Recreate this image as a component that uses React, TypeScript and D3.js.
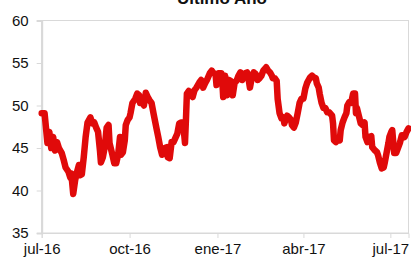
import React, { useEffect, useRef } from "react";
import * as d3 from "d3";

// days since 2016-07-01 and index value
const days = [
  0, 3, 6, 8, 10, 12, 14, 16, 18, 21, 23, 25, 28, 30, 31, 33, 35, 37, 39, 40,
  42, 44, 46, 48, 51, 53, 55, 57, 59, 61, 62, 64, 66, 68, 70, 71, 74, 76, 78, 80,
  82, 83, 85, 87, 88, 90, 92, 93, 95, 98, 100, 102, 103, 105, 107, 109, 111, 113, 115, 117,
  120, 122, 124, 126, 127, 129, 131, 132, 134, 136, 138, 142, 144, 146, 148, 150, 151, 152, 154, 156,
  158, 160, 162, 165, 167, 169, 171, 173, 176, 178, 180, 182, 183, 185, 188, 189, 190, 192, 194, 196,
  198, 200, 202, 204, 206, 208, 210, 213, 215, 216, 218, 220, 222, 224, 226, 228, 230, 232, 235, 237,
  239, 241, 242, 244, 246, 247, 249, 251, 253, 254, 257, 259, 261, 262, 264, 266, 268, 270, 272, 274,
  276, 278, 281, 283, 285, 287, 288, 290, 291, 293, 295, 297, 299, 301, 304, 305, 306, 308, 310, 312,
  313, 315, 317, 319, 320, 322, 324, 326, 328, 329, 330, 332, 334, 336, 338, 339, 341, 343, 345, 346,
  349, 351, 352, 354, 356, 358, 359, 361, 363, 364, 366, 367, 369, 371, 372, 375, 377, 378, 380, 382, 384,
];

const values = [
  49.1, 49.1, 45.6, 46.9, 45.0, 46.3, 44.7, 45.7, 45.0, 44.4, 43.6, 42.7, 42.2, 41.5, 42.0, 39.6, 41.2, 42.2, 43.0, 41.8,
  41.9, 43.9, 46.3, 48.0, 48.6, 47.9, 48.0, 47.4, 46.9, 44.7, 43.3, 43.9, 45.1, 47.4, 47.7, 45.6, 44.2, 43.2, 43.2, 44.2,
  46.3, 44.2, 44.5, 45.9, 47.7, 48.3, 48.6, 49.1, 50.3, 50.8, 51.4, 51.2, 50.3, 50.5, 50.0, 51.5, 51.0, 50.6, 50.3, 49.1,
  47.4, 46.3, 45.1, 44.2, 44.7, 45.0, 45.1, 43.9, 43.8, 45.7, 45.7, 46.7, 47.9, 48.0, 48.0, 45.6, 48.3, 51.4, 51.7, 51.5,
  51.0, 51.8, 52.1, 52.7, 53.0, 52.1, 52.6, 53.0, 53.8, 54.1, 53.8, 53.7, 52.4, 53.8, 53.8, 53.0, 51.0, 53.5, 51.2, 53.0,
  52.9, 51.2, 52.7, 52.9, 53.5, 53.9, 53.0, 53.8, 53.9, 53.5, 52.1, 53.3, 53.9, 53.7, 53.0, 53.2, 53.5, 54.1, 54.5, 54.1,
  53.9, 53.5, 53.2, 53.2, 52.9, 50.8, 49.1, 48.5, 48.6, 47.9, 48.8, 48.6, 48.3, 47.7, 47.4, 48.0, 49.1, 50.3, 50.8, 50.8,
  52.0, 52.7, 53.3, 53.5, 53.3, 53.2, 52.6, 52.1, 51.4, 50.3, 49.7, 49.7, 49.2, 49.2, 48.8, 47.9, 45.9, 45.7, 46.1, 45.9,
  47.1, 48.0, 48.6, 49.1, 50.0, 50.4, 50.3, 51.4, 51.4, 49.1, 49.7, 48.8, 47.9, 47.7, 48.0, 46.3, 45.7, 46.3, 46.4, 45.1,
  44.7, 44.5, 44.2, 43.3, 42.6, 42.7, 43.2, 44.4, 45.6, 46.3, 46.9, 47.1, 44.4, 44.4, 44.7, 45.6, 46.5, 46.5, 46.3, 46.9, 47.3,
];

const yTicks = [35, 40, 45, 50, 55, 60];
const xTickDates = ["2016-07-01", "2016-10-01", "2017-01-01", "2017-04-01", "2017-07-01"];
const monthNames = ["ene", "feb", "mar", "abr", "may", "jun", "jul", "ago", "sep", "oct", "nov", "dic"];
const title = "Último Año";

const W = 411;
const H = 257;

export default function App() {
  const ref = useRef<SVGSVGElement>(null);

  useEffect(() => {
    const svg = d3.select(ref.current);
    svg.selectAll("*").remove();

    const m = { top: 20.5, right: 2.5, bottom: 24, left: 41.7 };
    const start = new Date(2016, 6, 1);
    const data = days.map((d, i) => ({ date: d3.timeDay.offset(start, d), v: values[i] }));

    const x = d3
      .scaleTime()
      .domain([start, d3.timeDay.offset(start, 384)])
      .range([m.left, W - m.right]);
    const y = d3.scaleLinear().domain([35, 60]).range([H - m.bottom, m.top]);

    const grey = "#d9d9d9";
    const font = "'Liberation Sans', Arial, sans-serif";

    // frame
    svg
      .append("rect")
      .attr("x", m.left)
      .attr("y", m.top)
      .attr("width", W - m.left - m.right)
      .attr("height", H - m.top - m.bottom)
      .attr("fill", "none")
      .attr("stroke", grey)
      .attr("stroke-width", 1);

    // y axis
    const yAxis = svg
      .append("g")
      .attr("transform", `translate(${m.left},0)`)
      .call(d3.axisLeft(y).tickValues(yTicks).tickSize(5).tickPadding(8));
    yAxis.select(".domain").attr("stroke", grey).attr("stroke-width", 2);
    yAxis.selectAll("line").attr("stroke", grey);
    yAxis.selectAll("text").attr("font-family", font).attr("font-size", 15).attr("fill", "#111");

    // x axis
    const xAxis = svg
      .append("g")
      .attr("transform", `translate(0,${H - m.bottom})`)
      .call(
        d3
          .axisBottom(x)
          .tickValues(xTickDates.map((s) => d3.timeParse("%Y-%m-%d")(s) as Date))
          .tickSize(5)
          .tickPadding(5)
          .tickFormat((d: any) => `${monthNames[d.getMonth()]}-${d3.timeFormat("%y")(d)}`)
      );
    xAxis.select(".domain").attr("stroke", grey).attr("stroke-width", 1);
    xAxis.selectAll("line").attr("stroke", grey);
    xAxis.selectAll("text").attr("font-family", font).attr("font-size", 15).attr("fill", "#111");

    // line
    const line = d3
      .line<{ date: Date; v: number }>()
      .x((d) => x(d.date))
      .y((d) => y(d.v));
    svg
      .append("path")
      .datum(data)
      .attr("d", line)
      .attr("fill", "none")
      .attr("stroke", "#e00a0a")
      .attr("stroke-width", 6.5)
      .attr("stroke-linejoin", "round")
      .attr("stroke-linecap", "round");

    // title (cut off at the top, as in the source)
    svg
      .append("text")
      .attr("x", 222)
      .attr("y", 3.5)
      .attr("text-anchor", "middle")
      .attr("font-family", font)
      .attr("font-weight", "bold")
      .attr("font-size", 17)
      .attr("fill", "#111")
      .text(title);
  }, []);

  return (
    <svg
      ref={ref}
      width={W}
      height={H}
      style={{ position: "absolute", left: 0, top: 0, background: "#fff" }}
    />
  );
}
